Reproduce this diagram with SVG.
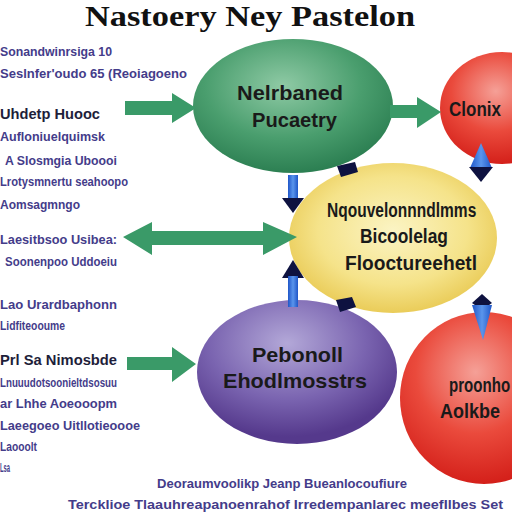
<svg xmlns="http://www.w3.org/2000/svg" width="512" height="512" viewBox="0 0 512 512">
<defs>
<radialGradient id="gGreen" cx="0.45" cy="0.35" r="0.65"><stop offset="0" stop-color="#8fcaa5"/><stop offset="0.6" stop-color="#4a9e6e"/><stop offset="1" stop-color="#2c7f52"/></radialGradient>
<radialGradient id="gRed" cx="0.45" cy="0.35" r="0.65"><stop offset="0" stop-color="#f5a097"/><stop offset="0.55" stop-color="#ea4a3c"/><stop offset="1" stop-color="#d4201a"/></radialGradient>
<radialGradient id="gYellow" cx="0.5" cy="0.45" r="0.6"><stop offset="0" stop-color="#fbf4c4"/><stop offset="0.6" stop-color="#f5e38a"/><stop offset="1" stop-color="#e7c64c"/></radialGradient>
<radialGradient id="gPurple" cx="0.45" cy="0.3" r="0.65"><stop offset="0" stop-color="#b3a8d8"/><stop offset="0.6" stop-color="#7a64b0"/><stop offset="1" stop-color="#55398c"/></radialGradient>
<linearGradient id="gBlue" x1="0" y1="0" x2="1" y2="0"><stop offset="0" stop-color="#1f56c8"/><stop offset="0.5" stop-color="#5a95ec"/><stop offset="1" stop-color="#1f56c8"/></linearGradient>
</defs>
<style>
.side{font-family:"Liberation Sans",Arial,sans-serif;font-weight:bold;font-size:13px;fill:#443c8a}
.head{font-family:"Liberation Sans",Arial,sans-serif;font-weight:bold;font-size:15px;fill:#1e1e3a}
.nt{font-family:"Liberation Sans",Arial,sans-serif;font-weight:bold;font-size:21px;fill:#1a1a1a}
.garrow{fill:#3a9a68}
.dark{fill:#0e1240}
.blue{fill:url(#gBlue)}
</style>
<rect width="512" height="512" fill="#ffffff"/>
<text x="85" y="26" font-family="Liberation Serif,serif" font-weight="bold" font-size="29" fill="#111" textLength="330" lengthAdjust="spacingAndGlyphs">Nastoery Ney Pastelon</text>

<g id="side-text">
<text class="side" x="0" y="56" textLength="112" lengthAdjust="spacingAndGlyphs">Sonandwinrsiga 10</text>
<text class="side" x="0" y="78" textLength="187" lengthAdjust="spacingAndGlyphs">Seslnfer'oudo 65 (Reoiagoeno</text>
<text class="head" x="0" y="119" textLength="100" lengthAdjust="spacingAndGlyphs">Uhdetp Huooc</text>
<text class="side" x="0" y="141" textLength="105" lengthAdjust="spacingAndGlyphs">Aufloniuelquimsk</text>
<text class="side" x="5" y="165" textLength="112" lengthAdjust="spacingAndGlyphs">A Slosmgia Uboooi</text>
<text class="side" x="0" y="186" textLength="128" lengthAdjust="spacingAndGlyphs">Lrotysmnertu seahoopo</text>
<text class="side" x="0" y="209" textLength="80" lengthAdjust="spacingAndGlyphs">Aomsagmngo</text>
<text class="side" x="0" y="244" textLength="117" lengthAdjust="spacingAndGlyphs">Laesitbsoo Usibea:</text>
<text class="side" x="5" y="266" textLength="112" lengthAdjust="spacingAndGlyphs">Soonenpoo Uddoeiu</text>
<text class="side" x="0" y="309" textLength="117" lengthAdjust="spacingAndGlyphs">Lao Urardbaphonn</text>
<text class="side" x="0" y="330" textLength="65" lengthAdjust="spacingAndGlyphs">Lidfiteooume</text>
<text class="head" x="0" y="365" textLength="117" lengthAdjust="spacingAndGlyphs">Prl Sa Nimosbde</text>
<text class="side" x="0" y="387" textLength="117" lengthAdjust="spacingAndGlyphs">Lnuuudotsoonieltdsosuu</text>
<text class="side" x="0" y="408" textLength="117" lengthAdjust="spacingAndGlyphs">ar Lhhe Aoeooopm</text>
<text class="side" x="0" y="430" textLength="140" lengthAdjust="spacingAndGlyphs">Laeegoeo  Uitllotieoooe</text>
<text class="side" x="0" y="451" textLength="37" lengthAdjust="spacingAndGlyphs">Laooolt</text>
<text class="side" x="0" y="472" textLength="10" lengthAdjust="spacingAndGlyphs">Lsa</text>
<text class="side" x="157" y="488" textLength="250" lengthAdjust="spacingAndGlyphs">Deoraumvoolikp Jeanp Bueanlocoufiure</text>
<text class="side" x="68" y="509" font-size="15" textLength="435" lengthAdjust="spacingAndGlyphs">Tercklioe Tlaauhreapanoenrahof Irredempanlarec meefIlbes Set</text>
</g>

<g id="node-green">
<ellipse cx="293" cy="106" rx="100" ry="67" fill="url(#gGreen)"/>
<text class="nt" x="237" y="100" textLength="106" lengthAdjust="spacingAndGlyphs">Nelrbaned</text>
<text class="nt" x="252" y="127" textLength="85" lengthAdjust="spacingAndGlyphs">Pucaetry</text>
</g>
<g id="node-red-top">
<ellipse cx="502" cy="108" rx="62" ry="56" fill="url(#gRed)"/>
<text class="nt" x="449" y="116" font-size="18" textLength="52" lengthAdjust="spacingAndGlyphs">Clonix</text>
</g>
<g id="node-yellow">
<ellipse cx="393" cy="238" rx="104" ry="75" fill="url(#gYellow)"/>
<text class="nt" transform="translate(327,217) scale(0.74,1)" x="0" y="0">Nqouvelonnndlmms</text>
<text class="nt" x="360" y="243" textLength="88" lengthAdjust="spacingAndGlyphs">Bicoolelag</text>
<text class="nt" x="345" y="270" textLength="132" lengthAdjust="spacingAndGlyphs">Flooctureehetl</text>
</g>
<g id="node-purple">
<ellipse cx="297" cy="372" rx="100" ry="72" fill="url(#gPurple)"/>
<text class="nt" x="252" y="362" textLength="91" lengthAdjust="spacingAndGlyphs">Pebonoll</text>
<text class="nt" x="223" y="388" textLength="144" lengthAdjust="spacingAndGlyphs">Ehodlmosstrs</text>
</g>
<g id="node-red-bottom">
<ellipse cx="484" cy="398" rx="84" ry="86" fill="url(#gRed)"/>
<text class="nt" transform="translate(449,392) scale(0.72,1)" x="0" y="0" font-size="17">proonho</text>
<text class="nt" x="440" y="418" textLength="60" lengthAdjust="spacingAndGlyphs">Aolkbe</text>
</g>

<g id="connectors">
<polygon class="garrow" points="125,101 172,101 172,93 196,108 172,123 172,115 125,115"/>
<polygon class="garrow" points="390,105 417,105 417,97 441,112 417,128 417,118 390,118"/>
<polygon class="garrow" points="123,237 152,222 152,231 263,231 263,222 297,237 263,255 263,245 152,245 152,255"/>
<polygon class="garrow" points="127,357 172,357 172,347 196,364 172,382 172,370 127,370"/>
<rect class="blue" x="288" y="175" width="10" height="26"/>
<polygon class="dark" points="282,198 304,198 293,213"/>
<polygon class="dark" points="282,278 304,278 293,260"/>
<rect class="blue" x="288" y="276" width="10" height="31"/>
<polygon class="blue" points="481,143 470,168 492,168"/>
<polygon class="dark" points="469,167 493,167 481,182"/>
<polygon class="dark" points="482,294 492,303 482,310 472,303"/>
<polygon class="blue" points="472,305 492,305 483,340"/>
<polygon class="dark" points="337,166 355,162 358,172 341,177"/>
<polygon class="dark" points="336,300 352,297 356,307 340,312"/>
</g>
</svg>
